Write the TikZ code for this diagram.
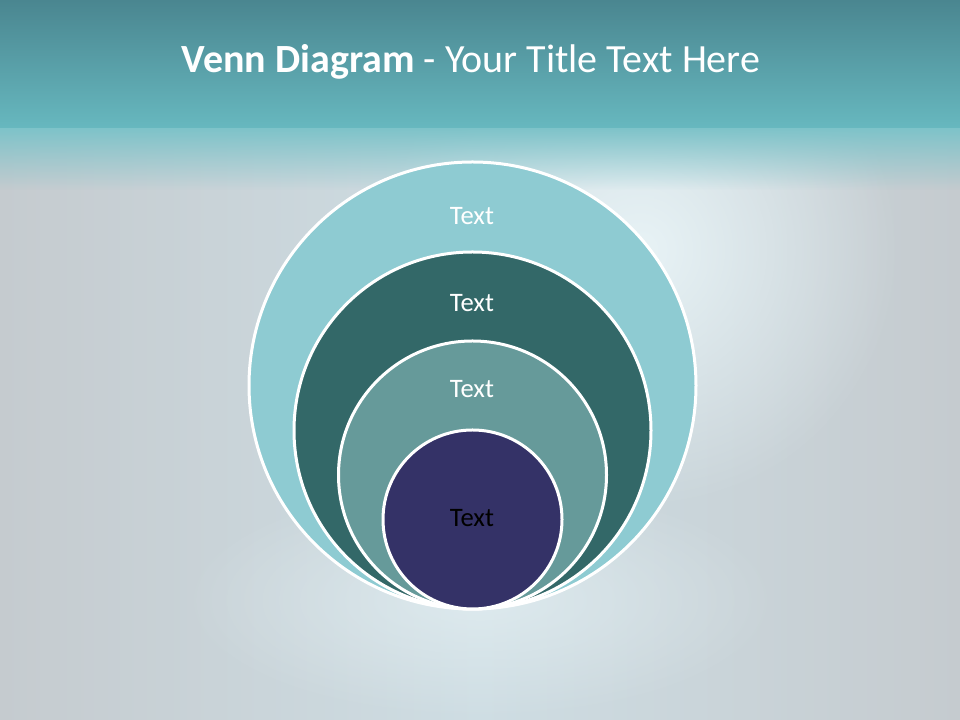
\documentclass[tikz,border=0pt]{standalone}
\usepackage{fontspec}
\setmainfont{Carlito}
\usetikzlibrary{fadings}
\definecolor{bandtop}{HTML}{4A8690}
\definecolor{bandbot}{HTML}{67B8BF}
\definecolor{bgedge}{HTML}{C5CBCF}
\definecolor{bgmid}{HTML}{CEDDE3}
\definecolor{glowc}{HTML}{E8F3F6}
\definecolor{ringA}{HTML}{8ECBD2}
\definecolor{ringB}{HTML}{336868}
\definecolor{ringC}{HTML}{669A9A}
\definecolor{ringD}{HTML}{343267}
\tikzfading[name=glowfade, inner color=transparent!0, outer color=transparent!100]
\tikzfading[name=downfade, top color=transparent!0, bottom color=transparent!100]
\tikzset{
  ring/.style={circle, draw=white, line width=2.25pt, inner sep=0pt},
  lbl/.style={font=\fontsize{20}{22}\selectfont, text=white, inner sep=0pt},
}
\begin{document}
\begin{tikzpicture}[x=0.75pt, y=0.75pt]
\useasboundingbox (0,0) rectangle (960,720);
% background
\shade[left color=bgedge, right color=bgedge, middle color=bgmid] (0,0) rectangle (960,720);
\fill[glowc, path fading=glowfade] (640,470) circle (260);
\fill[glowc, path fading=glowfade, opacity=0.6] (480,120) ellipse (300 and 120);
\fill[bandbot!85!white, path fading=downfade] (0,530) rectangle (960,592);
\shade[top color=bandtop, bottom color=bandbot] (0,592) rectangle (960,720);
% title
\node[text=white, font=\fontsize{30}{34}\selectfont, inner sep=0pt] (title) at (471,658)
  {\textbf{Venn Diagram} - Your Title Text Here};
% rings
\node[ring, fill=ringA, minimum size=335.25pt] (c1) at (472.5,334.5) {};
\node[ring, fill=ringB, minimum size=267.75pt] (c2) at (472.5,289.5) {};
\node[ring, fill=ringC, minimum size=201pt] (c3) at (472.5,245) {};
\node[ring, fill=ringD, minimum size=134.25pt] (c4) at (472.5,200.5) {};
% labels
\node[lbl] (t1) at (472,504) {Text};
\node[lbl] (t2) at (472,417) {Text};
\node[lbl] (t3) at (472,331) {Text};
\node[lbl, text=black] (t4) at (472,202) {Text};
\end{tikzpicture}
\end{document}
